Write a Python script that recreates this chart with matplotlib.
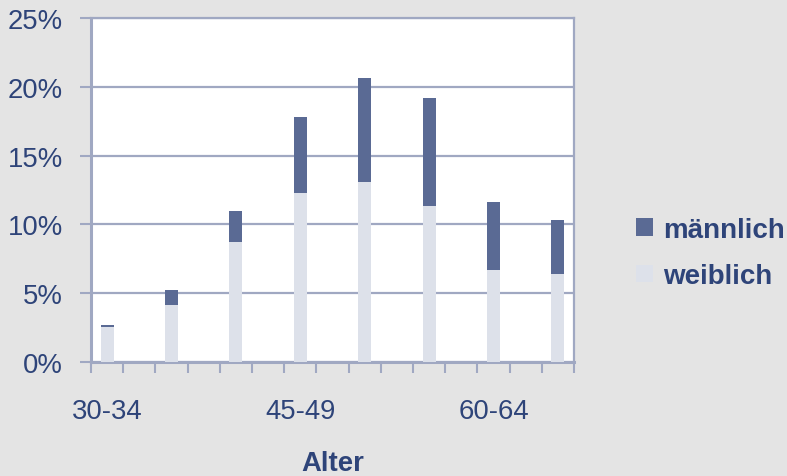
import matplotlib.pyplot as plt
from matplotlib.patches import Patch

plt.rcParams['font.family'] = ['Liberation Sans', 'DejaVu Sans']

ages = ['30-34', '35-39', '40-44', '45-49', '50-54', '55-59', '60-64', '65-69']
weiblich = [2.55, 4.15, 8.75, 12.25, 13.05, 11.3, 6.7, 6.4]
maennlich = [0.15, 1.1, 2.2, 5.55, 7.6, 7.9, 4.9, 3.9]

bg = '#e4e4e4'
dark = '#5a6a94'
light = '#dde1ea'
axcol = '#a0a8c2'
txt = '#2e4479'

fig = plt.figure(figsize=(7.87, 4.77), dpi=100, facecolor=bg)
ax = fig.add_axes([91 / 787, 1 - 362.7 / 477, (574 - 91) / 787, (362.7 - 19.3) / 477])
ax.set_facecolor('white')

# every age group sits on every second slot, as in the original sheet
pos = [2 * i for i in range(len(ages))]
ax.bar(pos, weiblich, width=0.4, color=light, zorder=3)
ax.bar(pos, maennlich, width=0.4, bottom=weiblich, color=dark, zorder=3)

ax.set_xlim(-0.5, 14.5)
ax.set_ylim(0, 25)
ax.set_yticks([0, 5, 10, 15, 20, 25])
ax.set_yticklabels(['0%', '5%', '10%', '15%', '20%', '25%'])
ax.yaxis.grid(True, color=axcol, linewidth=1.6, zorder=0)

ax.set_xticks([x - 0.5 for x in range(16)], minor=True)
ax.set_xticks([0, 6, 12])
ax.set_xticklabels([ages[0], ages[3], ages[6]])
ax.tick_params(axis='x', which='major', length=0, pad=26, labelsize=19.8, labelcolor=txt)
ax.tick_params(axis='x', which='minor', length=8, width=1.5, color=axcol, direction='out')
ax.tick_params(axis='y', length=8, width=1.5, color=axcol, pad=12, labelsize=19.8, labelcolor=txt)

for s in ['left', 'bottom']:
    ax.spines[s].set_color(axcol)
    ax.spines[s].set_linewidth(2.2)
for s in ['top', 'right']:
    ax.spines[s].set_color(axcol)
    ax.spines[s].set_linewidth(1.6)

ax.set_xlabel('Alter', fontsize=19.8, fontweight='bold', color=txt, labelpad=19)

handles = [Patch(facecolor=dark, label='männlich'), Patch(facecolor=light, label='weiblich')]
fig.legend(handles=handles, loc='center left', bbox_to_anchor=(636 / 787, 1 - 254 / 477),
           frameon=False, borderpad=0, borderaxespad=0, handlelength=0.6, handleheight=0.6,
           handletextpad=0.36, labelspacing=0.75,
           prop={'size': 20, 'weight': 'bold'}, labelcolor=txt)

fig.savefig('out.png', dpi=100, facecolor=bg)
